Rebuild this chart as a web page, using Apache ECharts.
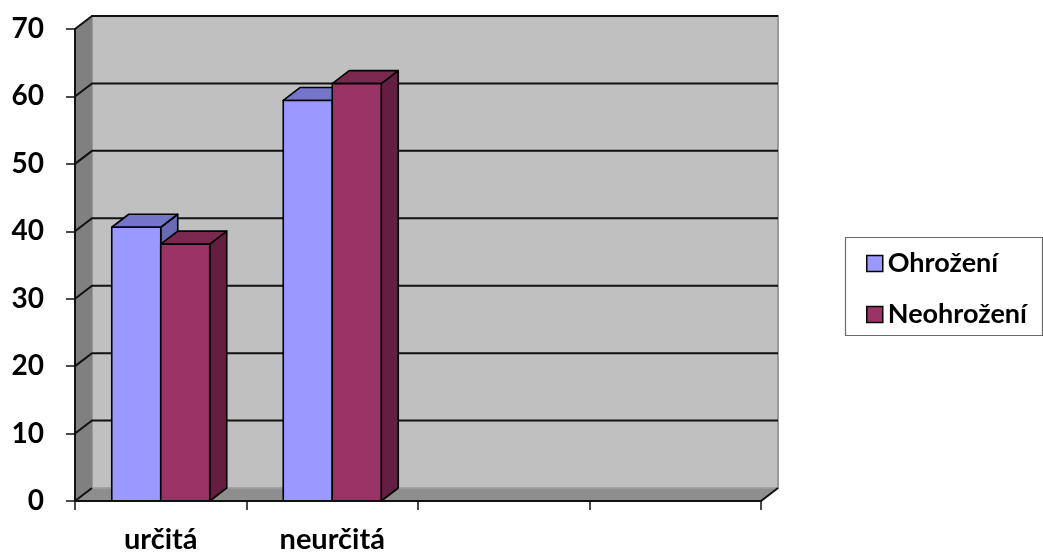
<!DOCTYPE html>
<html>
<head>
<meta charset="utf-8">
<script src="https://cdn.jsdelivr.net/npm/echarts@6/dist/echarts.min.js"></script>
<style>
  html, body { margin: 0; padding: 0; background: #fff; }
  #chart { width: 1043px; height: 556px; }
</style>
</head>
<body>
<div id="chart"></div>
<script>
// Categories along the floor (the last two slots are empty)
const categories = ['určitá', 'neurčitá', '', ''];
// Percentages for each group
const ohrozeni = [40.6, 59.4, null, null];
const neohrozeni = [38.1, 61.9, null, null];
// Value axis ticks
const yTicks = [0, 10, 20, 30, 40, 50, 60, 70];

// Depth of the pseudo-3D box
const DX = 17, DY = 13;
const FONT = 'Lato, "Open Sans", sans-serif';

const chart = echarts.init(document.getElementById('chart'));

// Back wall, side wall, floor and gridlines
function renderWalls(params, api) {
  const cs = params.coordSys;
  const left = cs.x, right = cs.x + cs.width;
  const bottom = cs.y + cs.height, top = cs.y;
  const children = [];
  children.push({
    type: 'rect',
    shape: { x: left + DX, y: top - DY, width: cs.width, height: cs.height },
    style: { fill: '#c0c0c0', stroke: '#9a9a9a', lineWidth: 2 }
  });
  children.push({
    type: 'polygon',
    shape: { points: [[left, top], [left + DX, top - DY], [left + DX, bottom - DY], [left, bottom]] },
    style: { fill: '#808080', stroke: null }
  });
  children.push({
    type: 'polygon',
    shape: { points: [[left, bottom], [left + DX, bottom - DY], [right + DX, bottom - DY], [right, bottom]] },
    style: { fill: '#8e8e8e', stroke: '#a8a8a8', lineWidth: 1 }
  });
  yTicks.forEach(function (v) {
    const y = api.coord([0, v])[1];
    const pts = v === 0
      ? [[left, y], [left + DX, y - DY]]
      : [[left, y], [left + DX, y - DY], [right + DX, y - DY]];
    children.push({
      type: 'polyline',
      shape: { points: pts },
      style: { stroke: '#111', lineWidth: 2, fill: null }
    });
  });
  children.push({
    type: 'polyline',
    shape: { points: [[left, bottom], [right, bottom], [right + DX, bottom - DY]] },
    style: { stroke: '#111', lineWidth: 2, fill: null }
  });
  return { type: 'group', children: children };
}

// 3D column: front face, top face and right side face
function makeBarRenderer(slot, colors) {
  return function (params, api) {
    const v = api.value(1);
    if (v == null || isNaN(v)) return;
    const cat = api.value(0);
    const base = api.coord([cat, 0]);
    const topPt = api.coord([cat, v]);
    const band = api.size([1, 0])[0];
    const w = band * 2 / 7;
    const x0 = base[0] - w + slot * w;
    const x1 = x0 + w;
    const ty = topPt[1], by = base[1];
    const line = { stroke: '#000', lineWidth: 1.6, lineJoin: 'round' };
    return {
      type: 'group',
      children: [
        {
          type: 'polygon',
          shape: { points: [[x1, ty], [x1 + DX, ty - DY], [x1 + DX, by - DY], [x1, by]] },
          style: Object.assign({ fill: colors.side }, line)
        },
        {
          type: 'polygon',
          shape: { points: [[x0, ty], [x0 + DX, ty - DY], [x1 + DX, ty - DY], [x1, ty]] },
          style: Object.assign({ fill: colors.top }, line)
        },
        {
          type: 'rect',
          shape: { x: x0, y: ty, width: w, height: by - ty },
          style: Object.assign({ fill: colors.front }, line)
        }
      ]
    };
  };
}

const blue = { front: '#9999ff', top: '#7474c8', side: '#6a6ab4' };
const plum = { front: '#993366', top: '#7a2850', side: '#621f40' };

chart.setOption({
  animation: false,
  backgroundColor: '#ffffff',
  grid: { left: 75, top: 29, width: 686, height: 472, containLabel: false },
  xAxis: {
    type: 'category',
    data: categories,
    z: 5,
    axisLine: { show: true, lineStyle: { color: '#111', width: 2 } },
    axisTick: { show: true, alignWithLabel: false, length: 9, lineStyle: { color: '#111', width: 1.5 } },
    axisLabel: { margin: 24, color: '#000', fontFamily: FONT, fontWeight: 'bold', fontSize: 29 },
    splitLine: { show: false }
  },
  yAxis: {
    type: 'value',
    min: 0, max: 70, interval: 10,
    z: 5,
    axisLine: { show: true, lineStyle: { color: '#111', width: 2 } },
    axisTick: { show: true, length: 9, lineStyle: { color: '#111', width: 1.5 } },
    axisLabel: { margin: 31, color: '#000', fontFamily: FONT, fontWeight: 'bold', fontSize: 28 },
    splitLine: { show: false }
  },
  legend: {
    orient: 'vertical',
    left: 866, top: 250,
    padding: 0,
    itemGap: 24,
    itemWidth: 16, itemHeight: 16,
    icon: 'rect',
    data: ['Ohrožení', 'Neohrožení'],
    itemStyle: { borderColor: '#000', borderWidth: 1.5 },
    textStyle: { color: '#000', fontFamily: FONT, fontWeight: 'bold', fontSize: 27, lineHeight: 26 }
  },
  graphic: [{
    type: 'rect',
    left: 843, top: 235,
    shape: { width: 197, height: 98 },
    style: { fill: 'none', stroke: '#6a6a6a', lineWidth: 1.2 },
    z: -1
  }],
  series: [
    {
      name: 'walls',
      type: 'custom',
      z: 1,
      silent: true,
      renderItem: renderWalls,
      data: [[0, 0]]
    },
    {
      name: 'Ohrožení',
      type: 'custom',
      z: 2,
      itemStyle: { color: blue.front },
      renderItem: makeBarRenderer(0, blue),
      data: ohrozeni.map(function (v, i) { return [i, v]; })
    },
    {
      name: 'Neohrožení',
      type: 'custom',
      z: 3,
      itemStyle: { color: plum.front },
      renderItem: makeBarRenderer(1, plum),
      data: neohrozeni.map(function (v, i) { return [i, v]; })
    }
  ]
});
</script>
</body>
</html>
